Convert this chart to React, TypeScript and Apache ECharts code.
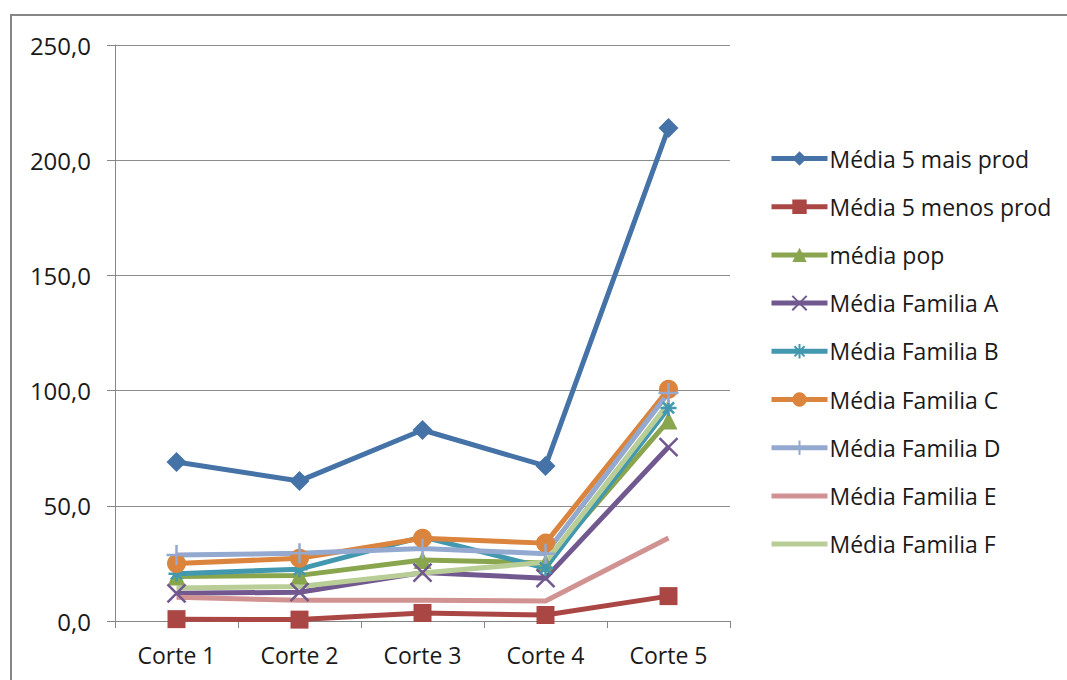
import React, { useEffect, useRef } from "react";
import * as echarts from "echarts";

// Categories (cuts) and the mean value of each group at every cut
const cortes = ["Corte 1", "Corte 2", "Corte 3", "Corte 4", "Corte 5"];

const media5MaisProd = [69.0, 60.8, 82.9, 67.3, 214.0];
const media5MenosProd = [0.8, 0.6, 3.5, 2.6, 10.8];
const mediaPop = [19.3, 19.8, 26.5, 25.2, 87.0];
const familiaA = [12.0, 12.5, 21.0, 18.6, 75.5];
const familiaB = [20.5, 22.5, 36.5, 23.0, 92.5];
const familiaC = [25.0, 27.2, 35.9, 33.8, 100.6];
const familiaD = [28.6, 29.4, 31.5, 29.2, 99.0];
const familiaE = [10.3, 9.0, 9.0, 8.7, 36.0];
const familiaF = [14.3, 15.0, 20.8, 25.5, 94.5];

const seriesNames = [
  "Média 5 mais prod",
  "Média 5 menos prod",
  "média pop",
  "Média Familia A",
  "Média Familia B",
  "Média Familia C",
  "Média Familia D",
  "Média Familia E",
  "Média Familia F",
];

const FONT = "'Open Sans', 'Noto Sans', sans-serif";

const CROSS = "path://M0,0L10,10M10,0L0,10";
const STAR = "path://M5,0L5,10M0,5L10,5M1.5,1.5L8.5,8.5M8.5,1.5L1.5,8.5";
const PLUS = "path://M5,0L5,10M0,5L10,5";

type Spec = {
  data: number[];
  color: string;
  symbol: string;
  size: number;
  stroke?: boolean;
};

const specs: Spec[] = [
  { data: media5MaisProd, color: "#4572A7", symbol: "diamond", size: 20 },
  { data: media5MenosProd, color: "#AA4643", symbol: "rect", size: 18 },
  { data: mediaPop, color: "#89A54E", symbol: "triangle", size: 18 },
  { data: familiaA, color: "#71588F", symbol: CROSS, size: 18, stroke: true },
  { data: familiaB, color: "#4198AF", symbol: STAR, size: 16, stroke: true },
  { data: familiaC, color: "#DB843D", symbol: "circle", size: 19 },
  { data: familiaD, color: "#93A9CF", symbol: PLUS, size: 20, stroke: true },
  { data: familiaE, color: "#D19392", symbol: "none", size: 0 },
  { data: familiaF, color: "#B9CD96", symbol: "none", size: 0 },
];

export default function App() {
  const ref = useRef<HTMLDivElement>(null);

  useEffect(() => {
    document.body.style.margin = "0";
    if (!ref.current) return;
    const chart = echarts.init(ref.current, undefined, { renderer: "svg" });

    const series = specs.map((s, i) => ({
      name: seriesNames[i],
      type: "line",
      data: s.data,
      symbol: s.symbol,
      symbolSize: s.size,
      showSymbol: s.symbol !== "none",
      lineStyle: { color: s.color, width: 5 },
      itemStyle: s.stroke
        ? { color: s.color, borderColor: s.color, borderWidth: 2.5 }
        : { color: s.color },
      emphasis: { disabled: true },
    }));

    // Series without markers show a plain line in the legend
    const legendData = specs.map((s, i) =>
      s.symbol === "none"
        ? { name: seriesNames[i], itemStyle: { opacity: 0 } }
        : { name: seriesNames[i] }
    );

    chart.setOption({
      animation: false,
      backgroundColor: "#ffffff",
      textStyle: { fontFamily: FONT },
      graphic: [
        {
          type: "rect",
          shape: { x: 11, y: 15, width: 1100, height: 700 },
          style: { fill: "none", stroke: "#868686", lineWidth: 2 },
          silent: true,
        },
      ],
      grid: { left: 115, top: 45, right: 337, bottom: 59, containLabel: false },
      legend: {
        orient: "vertical",
        left: 764,
        top: 142,
        padding: 5,
        itemWidth: 56,
        itemHeight: 18,
        itemGap: 25.2,
        lineStyle: { width: 5 },
        textStyle: {
          fontFamily: FONT,
          fontSize: 23,
          color: "#1a1a1a",
          lineHeight: 22,
          padding: [0, 0, 0, -3],
        },
        data: legendData,
      },
      xAxis: {
        type: "category",
        data: cortes,
        boundaryGap: true,
        axisLine: { lineStyle: { color: "#868686", width: 1 } },
        axisTick: { show: true, length: 7, lineStyle: { color: "#868686" } },
        axisLabel: { fontFamily: FONT, fontSize: 23, color: "#1a1a1a", margin: 22 },
        splitLine: { show: false },
      },
      yAxis: {
        type: "value",
        min: 0,
        max: 250,
        interval: 50,
        axisLine: { show: true, lineStyle: { color: "#868686", width: 1 } },
        axisTick: { show: true, length: 8, lineStyle: { color: "#868686" } },
        axisLabel: {
          fontFamily: FONT,
          fontSize: 24,
          color: "#1a1a1a",
          margin: 24,
          formatter: (v: number) => v.toFixed(1).replace(".", ","),
        },
        splitLine: { show: true, lineStyle: { color: "#8c8c8c", width: 1 } },
      },
      series,
    });

    return () => chart.dispose();
  }, []);

  return <div ref={ref} style={{ width: 1067, height: 680 }} />;
}
